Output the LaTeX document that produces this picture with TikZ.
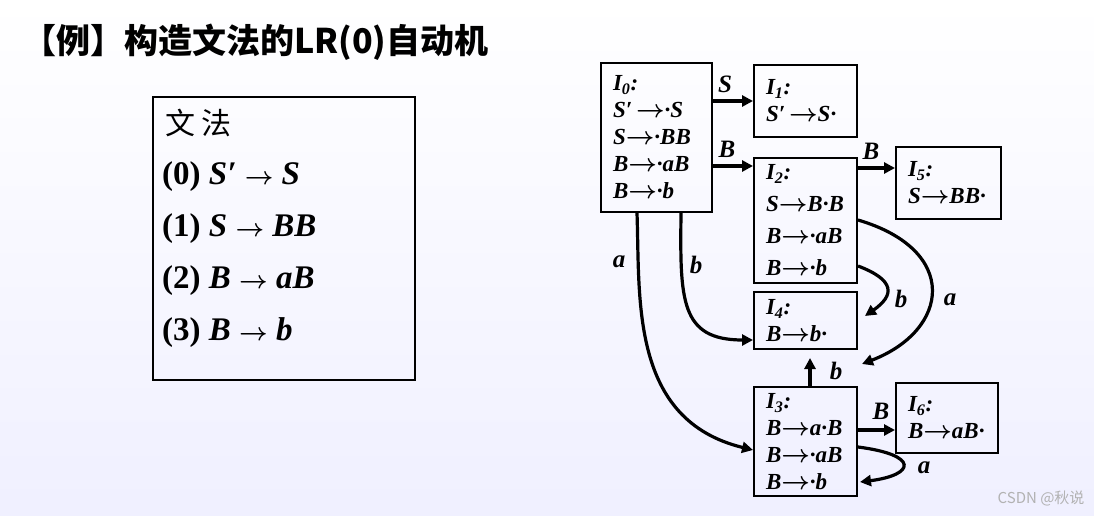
\documentclass[tikz,border=0pt]{standalone}
\usepackage{fontspec}
\setmainfont{Liberation Serif}
\newfontfamily\cjk{Noto Sans CJK SC}
\usetikzlibrary{arrows.meta,calc}
\newcommand{\Ist}[1]{\textit{I}\textsubscript{\textit{#1}}:}
\newcommand{\ra}{\ensuremath{\boldsymbol{\rightarrow}}}
\usepackage{amsmath}
\begin{document}
\begin{tikzpicture}[x=1pt,y=-1pt,
  st/.style={draw,line width=2pt,anchor=north west,inner sep=0pt,align=left,font=\bfseries\itshape\fontsize{23}{27}\selectfont},
  ar/.style={line width=3.2pt,-{Triangle[length=11pt,width=11pt]}},
  lb/.style={font=\bfseries\itshape\fontsize{25}{25}\selectfont}]
\shade[top color=white,bottom color=blue!6!white] (0,0) rectangle (1094,516);
\useasboundingbox (0,0) rectangle (1094,516);
\node[anchor=west,inner sep=0pt,font=\cjk\bfseries\fontsize{34}{34}\selectfont] (title) at (22,42) {【例】构造文法的LR(0)自动机};
\node[draw,line width=2pt,anchor=north west,minimum width=262pt,minimum height=283pt] (G) at (152,96) {};
\node[anchor=west,inner sep=0pt,font=\cjk\fontsize{30}{30}\selectfont] (g0) at (165,123) {文 法};
\begin{scope}[every node/.style={anchor=west,inner sep=0pt,font=\bfseries\fontsize{33}{33}\selectfont}]
\node (g1) at (162,177) {(0) \textit{S′} \ra{} \textit{S}};
\node (g2) at (162,229) {(1) \textit{S} \ra{} \textit{BB}};
\node (g3) at (162,281) {(2) \textit{B} \ra{} \textit{aB}};
\node (g4) at (162,333) {(3) \textit{B} \ra{} \textit{b}};
\end{scope}
\node[st,minimum width=111pt,minimum height=149pt,text width=103pt] (I0) at (600,62)
 {\hspace*{8pt}\Ist{0}\\\hspace*{8pt}S′\,\ra·S\\\hspace*{8pt}S\ra·BB\\\hspace*{8pt}B\ra·aB\\\hspace*{8pt}B\ra·b};
\node[st,minimum width=103pt,minimum height=72pt,text width=95pt] (I1) at (753,64)
 {\hspace*{8pt}\Ist{1}\\\hspace*{8pt}S′\,\ra S·};
\node[st,minimum width=103pt,minimum height=125pt,text width=95pt,font=\bfseries\itshape\fontsize{23}{32}\selectfont] (I2) at (753,157)
 {\hspace*{8pt}\Ist{2}\\\hspace*{8pt}S\ra B·B\\\hspace*{8pt}B\ra·aB\\\hspace*{8pt}B\ra·b};
\node[st,minimum width=105pt,minimum height=72pt,text width=97pt] (I5) at (895,146)
 {\hspace*{8pt}\Ist{5}\\\hspace*{8pt}S\ra BB·};
\node[st,minimum width=103pt,minimum height=57pt,text width=95pt] (I4) at (753,291)
 {\hspace*{8pt}\Ist{4}\\\hspace*{8pt}B\ra b·};
\node[st,minimum width=103pt,minimum height=109pt,text width=95pt,font=\bfseries\itshape\fontsize{23}{27}\selectfont] (I3) at (753,386)
 {\hspace*{8pt}\Ist{3}\\\hspace*{8pt}B\ra a·B\\\hspace*{8pt}B\ra·aB\\\hspace*{8pt}B\ra·b};
\node[st,minimum width=102pt,minimum height=70pt,text width=94pt] (I6) at (895,382)
 {\hspace*{8pt}\Ist{6}\\\hspace*{8pt}B\ra aB·};
% edges
\draw[ar] ($(I0.north east)+(0,39)$) -- ($(I1.north west)+(0,37)$) node[lb,pos=0.3,above=3pt] (l1) {S};
\draw[ar] ($(I0.north east)+(0,104)$) -- ($(I2.north west)+(0,9)$) node[lb,pos=0.35,above=3pt] (l2) {B};
\draw[ar] ($(I2.north east)+(0,11)$) -- ($(I5.north west)+(0,22)$) node[lb,pos=0.35,above=3pt] (l3) {B};
\draw[ar] ($(I2.north east)+(0,63)$) .. controls (960,250) and (950,330) .. ($(I3.north east)+(4,-22)$);
\node[lb] (l4) at (950,300) {a};
\draw[ar] ($(I2.north east)+(0,109)$) .. controls (895,280) and (895,295) .. (865,316);
\node[lb] (l5) at (901,299) {b};
\draw[ar] ($(I0.south west)+(81,0)$) .. controls (680,300) and (680,340) .. ($(I4.north west)+(0,49)$);
\node[lb] (l6) at (696,265) {b};
\draw[ar] ($(I0.south west)+(37,0)$) .. controls (640,300) and (630,420) .. ($(I3.north west)+(0,64)$);
\node[lb] (l7) at (619,262) {a};
\draw[ar] ($(I3.north west)+(57,0)$) -- ($(I4.south west)+(57,8)$);
\node[lb] (l8) at (836,371) {b};
\draw[ar] ($(I3.north east)+(0,44)$) -- ($(I6.north west)+(0,48)$);
\node[lb] (l9) at (881,411) {B};
\draw[ar] ($(I3.north east)+(0,61)$) .. controls (920,455) and (915,475) .. ($(I3.north east)+(2,96)$);
\node[lb] (l10) at (924,468) {a};
\node[anchor=east,text=gray!60,font=\cjk\fontsize{15}{15}\selectfont] (wm) at (1088,498) {CSDN @秋说};
\end{tikzpicture}
\end{document}
